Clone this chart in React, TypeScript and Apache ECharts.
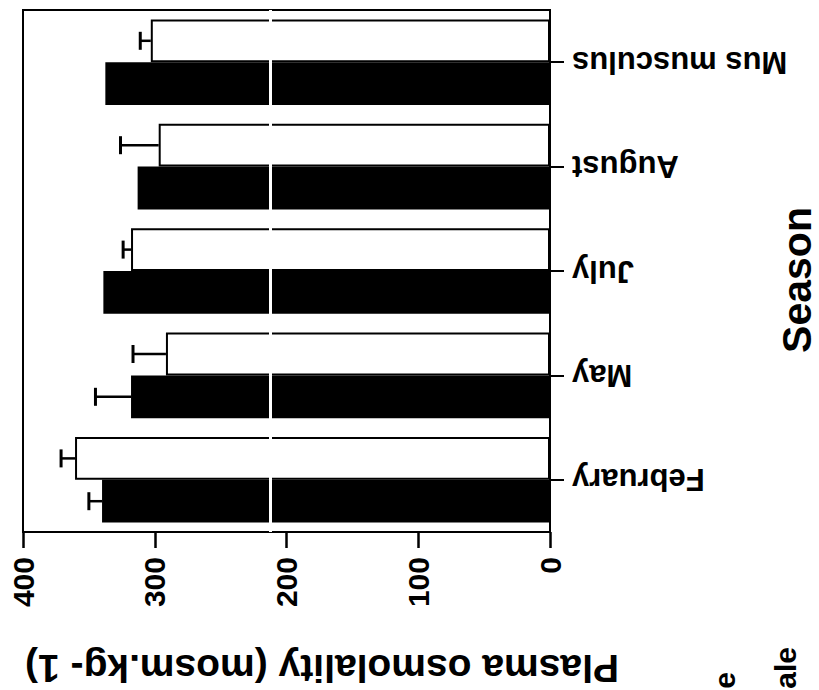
import React, { useEffect, useRef } from "react";
import * as echarts from "echarts";

const categories = ["February", "May", "July", "August", "Mus musculus"];
const blackValues = [340, 318, 339, 313, 337.5];
const whiteValues = [360.5, 291.5, 318, 297, 303];
const blackErrors = [10, 27, 0, 0, 0];
const whiteErrors = [10.6, 25, 6, 29, 8];
const valueTicks = { min: 0, max: 400, interval: 100 };
const breakValue = 212.5;

const FONT = "'Liberation Sans', Arial, Helvetica, sans-serif";
const BAR_FRAC = 0.41;

function errRender(sign: number) {
  return (params: any, api: any) => {
    const cat = api.value(0);
    const v = api.value(1);
    const e = api.value(2);
    if (!e) return null;
    const base = api.coord([v, cat]);
    const tip = api.coord([v + e, cat]);
    const band = api.size([0, 1])[1];
    const y = base[1] + (sign * band * BAR_FRAC) / 2;
    const cap = 9;
    return {
      type: "group",
      children: [
        { type: "line", shape: { x1: base[0], y1: y, x2: tip[0], y2: y }, style: { stroke: "#000", lineWidth: 2.5 } },
        { type: "line", shape: { x1: tip[0], y1: y - cap, x2: tip[0], y2: y + cap }, style: { stroke: "#000", lineWidth: 3 } },
      ],
    };
  };
}

export default function App() {
  const ref = useRef<HTMLDivElement>(null);
  useEffect(() => {
    if (!ref.current) return;
    const chart = echarts.init(ref.current, null, { renderer: "svg" });
    chart.setOption({
      animation: false,
      backgroundColor: "#fff",
      grid: { left: 23, right: 269, top: 10, bottom: 158, show: true, borderColor: "#000", borderWidth: 2, backgroundColor: "transparent" },
      xAxis: {
        type: "value",
        inverse: true,
        min: valueTicks.min,
        max: valueTicks.max,
        interval: valueTicks.interval,
        axisLine: { show: true, lineStyle: { color: "#000", width: 2 } },
        axisTick: { show: true, length: 16, lineStyle: { color: "#000", width: 2.5 } },
        splitLine: { show: false },
        axisLabel: { rotate: 90, margin: 25, fontSize: 30, fontWeight: "bold", color: "#000", fontFamily: FONT },
      },
      yAxis: {
        type: "category",
        position: "right",
        data: categories,
        axisLine: { show: true, lineStyle: { color: "#000", width: 2 } },
        axisTick: { show: true, alignWithLabel: true, length: 14, lineStyle: { color: "#000", width: 2 } },
        axisLabel: { rotate: 180, margin: 22, fontSize: 31, fontWeight: "bold", color: "#000", fontFamily: FONT },
      },
      series: [
        {
          name: "Female",
          type: "bar",
          data: whiteValues,
          barWidth: BAR_FRAC * 100 + "%",
          barGap: "0%",
          itemStyle: { color: "#fff", borderColor: "#000", borderWidth: 2 },
        },
        {
          name: "Male",
          type: "bar",
          data: blackValues,
          barWidth: BAR_FRAC * 100 + "%",
          barGap: "0%",
          itemStyle: { color: "#000" },
          z: 3,
          markLine: {
            silent: true,
            symbol: ["none", "none"],
            label: { show: false },
            lineStyle: { color: "#fff", width: 3, type: "solid" },
            data: [{ xAxis: breakValue }],
          },
        },
        {
          type: "custom",
          renderItem: errRender(-1),
          encode: { x: 1, y: 0 },
          data: categories.map((c, i) => [i, whiteValues[i], whiteErrors[i]]),
          z: 4,
        },
        {
          type: "custom",
          renderItem: errRender(1),
          encode: { x: 1, y: 0 },
          data: categories.map((c, i) => [i, blackValues[i], blackErrors[i]]),
          z: 4,
        },
      ],
      graphic: [
        {
          type: "text",
          x: 322,
          y: 668,
          rotation: Math.PI,
          style: { text: "Plasma osmolality (mosm.kg- 1)", fontSize: 39, lineHeight: 39, fontWeight: "bold", fontFamily: FONT, fill: "#000", textAlign: "center", textVerticalAlign: "middle" },
        },
        {
          type: "text",
          x: 797,
          y: 280,
          rotation: Math.PI / 2,
          style: { text: "Season", fontSize: 41, lineHeight: 36, fontWeight: "bold", fontFamily: FONT, fill: "#000", textAlign: "center", textVerticalAlign: "middle" },
        },
        {
          type: "text",
          x: 785,
          y: 647,
          rotation: Math.PI / 2,
          style: { text: "ale", fontSize: 30, lineHeight: 28, fontWeight: "bold", fontFamily: FONT, fill: "#000", textAlign: "right", textVerticalAlign: "middle" },
        },
        {
          type: "text",
          x: 724,
          y: 672,
          rotation: Math.PI / 2,
          style: { text: "e", fontSize: 30, lineHeight: 28, fontWeight: "bold", fontFamily: FONT, fill: "#000", textAlign: "right", textVerticalAlign: "middle" },
        },
      ],
    });
    return () => chart.dispose();
  }, []);
  return <div ref={ref} style={{ position: "absolute", left: 0, top: 0, width: 819, height: 690 }} />;
}
